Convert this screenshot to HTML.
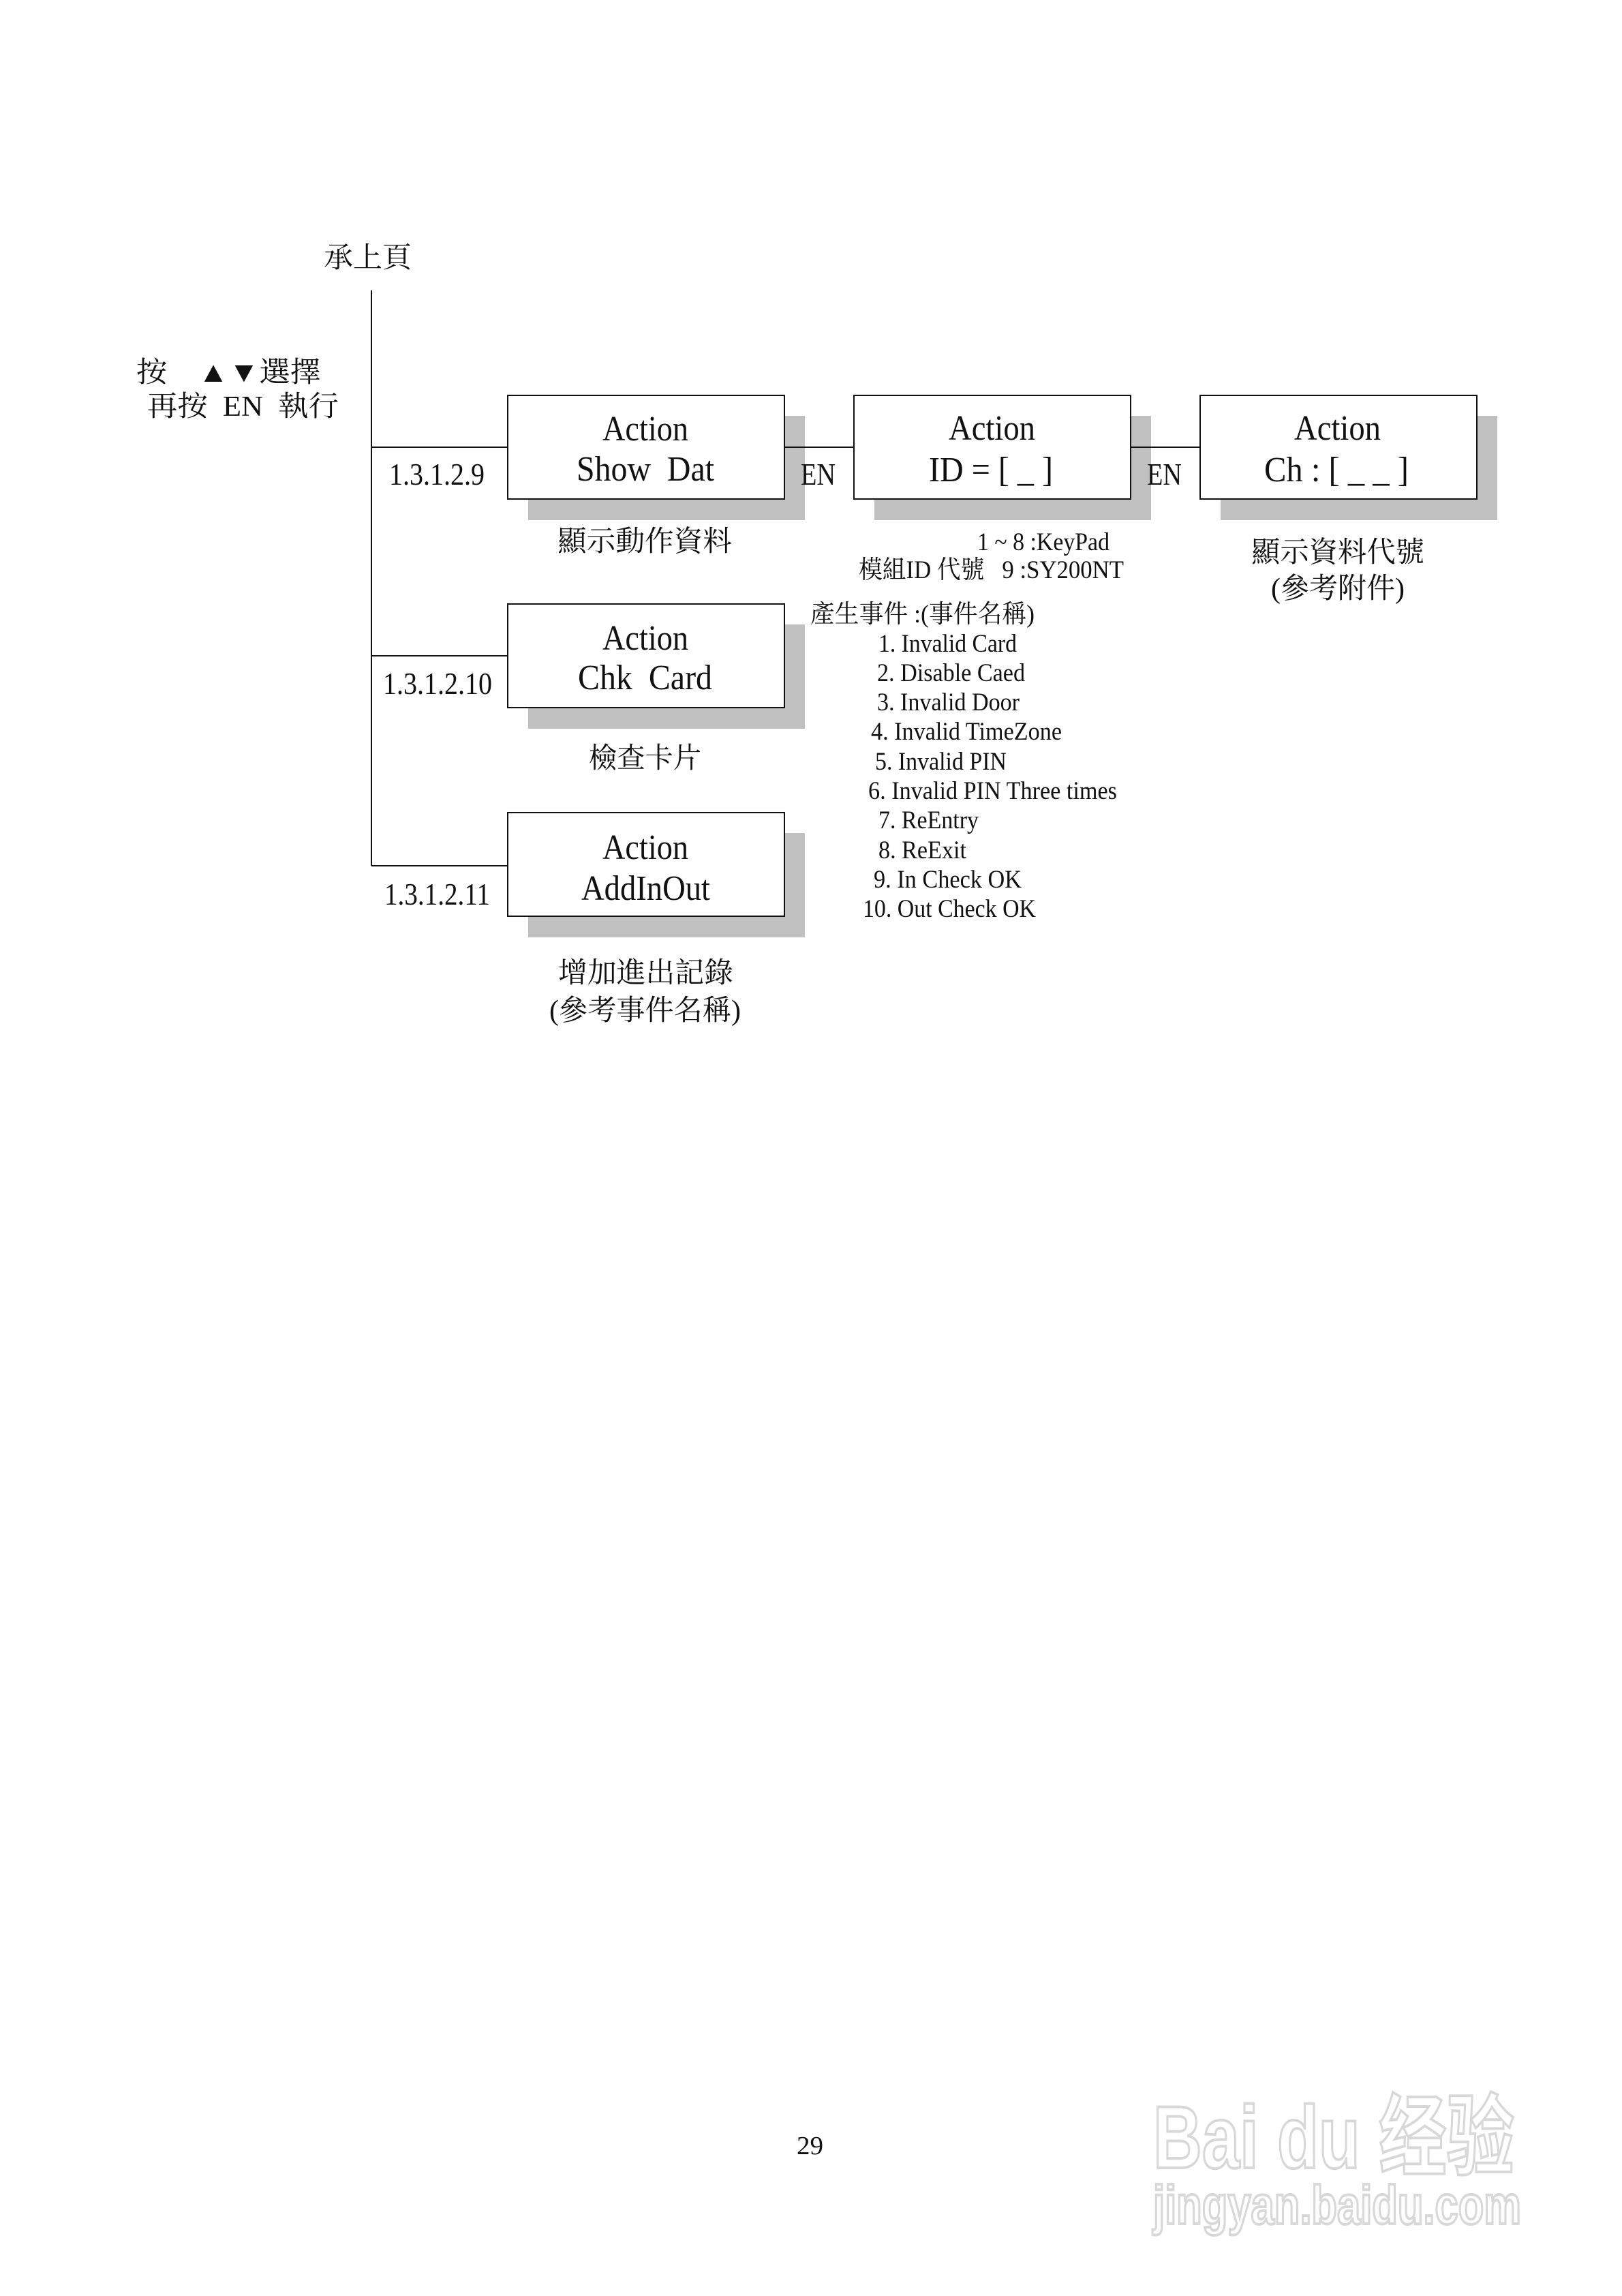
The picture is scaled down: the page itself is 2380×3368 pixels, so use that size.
<!DOCTYPE html>
<html><head><meta charset="utf-8"><style>
html,body{margin:0;padding:0;background:#fff}
svg{display:block}
text{font-family:"Liberation Serif","Noto Serif CJK SC","Noto Sans CJK TC",serif;fill:#111}
</style></head><body>
<svg width="2380" height="3368" viewBox="0 0 2380 3368" xmlns="http://www.w3.org/2000/svg">
<rect width="2380" height="3368" fill="#fff"/>
<g fill="#c0c0c0">
<rect x="775" y="610" width="406" height="153"/>
<rect x="1283" y="610" width="406" height="153"/>
<rect x="1791" y="610" width="406" height="153"/>
<rect x="775" y="916" width="406" height="153"/>
<rect x="775" y="1222" width="406" height="153"/>
</g>
<g stroke="#111" stroke-width="2" fill="none">
<line x1="545" y1="426" x2="545" y2="1270"/>
<line x1="545" y1="656" x2="745" y2="656"/>
<line x1="545" y1="962" x2="745" y2="962"/>
<line x1="545" y1="1270" x2="745" y2="1270"/>
<line x1="1151" y1="656" x2="1253" y2="656"/>
<line x1="1659" y1="656" x2="1761" y2="656"/>
</g>
<g stroke="#111" stroke-width="2" fill="#fff">
<rect x="745" y="580" width="406" height="152"/>
<rect x="1253" y="580" width="406" height="152"/>
<rect x="1761" y="580" width="406" height="152"/>
<rect x="745" y="886" width="406" height="152"/>
<rect x="745" y="1192" width="406" height="152"/>
</g>
<g font-size="52" lengthAdjust="spacingAndGlyphs">
<text x="884" y="646" textLength="126" lengthAdjust="spacingAndGlyphs">Action</text>
<text x="846" y="705" textLength="202" lengthAdjust="spacingAndGlyphs" xml:space="preserve">Show  Dat</text>
<text x="1392" y="645" textLength="127" lengthAdjust="spacingAndGlyphs">Action</text>
<text x="1363" y="706" textLength="182" lengthAdjust="spacingAndGlyphs">ID = [ _ ]</text>
<text x="1899" y="645" textLength="127" lengthAdjust="spacingAndGlyphs">Action</text>
<text x="1855" y="706" textLength="212" lengthAdjust="spacingAndGlyphs">Ch : [ _ _ ]</text>
<text x="884" y="953" textLength="126" lengthAdjust="spacingAndGlyphs">Action</text>
<text x="848" y="1011" textLength="197" lengthAdjust="spacingAndGlyphs" xml:space="preserve">Chk  Card</text>
<text x="884" y="1260" textLength="126" lengthAdjust="spacingAndGlyphs">Action</text>
<text x="853" y="1320" textLength="189" lengthAdjust="spacingAndGlyphs">AddInOut</text>
</g>
<g font-size="46">
<text x="571" y="711" textLength="140" lengthAdjust="spacingAndGlyphs">1.3.1.2.9</text>
<text x="562" y="1018" textLength="160" lengthAdjust="spacingAndGlyphs">1.3.1.2.10</text>
<text x="564" y="1327" textLength="155" lengthAdjust="spacingAndGlyphs">1.3.1.2.11</text>
<text x="1175" y="711" textLength="51" lengthAdjust="spacingAndGlyphs">EN</text>
<text x="1683" y="711" textLength="51" lengthAdjust="spacingAndGlyphs">EN</text>
</g>
<g font-size="42">
<text x="475" y="392" textLength="129" lengthAdjust="spacingAndGlyphs">承上頁</text>
<text x="200" y="560" textLength="271" lengthAdjust="spacingAndGlyphs" xml:space="preserve">按    ▲▼選擇</text>
<text x="216" y="610" textLength="281" lengthAdjust="spacingAndGlyphs" xml:space="preserve">再按  EN  執行</text>
<text x="818" y="808" textLength="256" lengthAdjust="spacingAndGlyphs">顯示動作資料</text>
<text x="864" y="1126" textLength="165" lengthAdjust="spacingAndGlyphs">檢查卡片</text>
<text x="819" y="1441" textLength="257" lengthAdjust="spacingAndGlyphs">增加進出記錄</text>
<text x="806" y="1496" textLength="281" lengthAdjust="spacingAndGlyphs">(參考事件名稱)</text>
<text x="1836" y="824" textLength="254" lengthAdjust="spacingAndGlyphs">顯示資料代號</text>
<text x="1865" y="877" textLength="196" lengthAdjust="spacingAndGlyphs">(參考附件)</text>
</g>
<g font-size="37">
<text x="1434" y="807" textLength="194" lengthAdjust="spacingAndGlyphs">1 ~ 8 :KeyPad</text>
<text x="1260" y="848" textLength="389" lengthAdjust="spacingAndGlyphs" xml:space="preserve">模組ID 代號   9 :SY200NT</text>
<text x="1189" y="913" textLength="329" lengthAdjust="spacingAndGlyphs">產生事件 :(事件名稱)</text>
<text x="1289" y="956" textLength="203" lengthAdjust="spacingAndGlyphs">1. Invalid Card</text>
<text x="1287" y="999" textLength="217" lengthAdjust="spacingAndGlyphs">2. Disable Caed</text>
<text x="1287" y="1042" textLength="209" lengthAdjust="spacingAndGlyphs">3. Invalid Door</text>
<text x="1278" y="1085" textLength="280" lengthAdjust="spacingAndGlyphs">4. Invalid TimeZone</text>
<text x="1284" y="1129" textLength="193" lengthAdjust="spacingAndGlyphs">5. Invalid PIN</text>
<text x="1274" y="1172" textLength="365" lengthAdjust="spacingAndGlyphs">6. Invalid PIN Three times</text>
<text x="1289" y="1215" textLength="147" lengthAdjust="spacingAndGlyphs">7. ReEntry</text>
<text x="1289" y="1259" textLength="129" lengthAdjust="spacingAndGlyphs">8. ReExit</text>
<text x="1282" y="1302" textLength="217" lengthAdjust="spacingAndGlyphs">9. In Check OK</text>
<text x="1266" y="1345" textLength="254" lengthAdjust="spacingAndGlyphs">10. Out Check OK</text>
</g>
<text x="1169" y="3160" font-size="38" textLength="39" lengthAdjust="spacingAndGlyphs">29</text>
<g fill="#fff" stroke="#d8d8d8" stroke-width="4" font-family="Liberation Sans, sans-serif" font-weight="bold">
<text x="1692" y="3180" font-size="130" textLength="530" lengthAdjust="spacingAndGlyphs" style="fill:#fff;stroke:#d8d8d8;font-family:'Liberation Sans','Noto Sans CJK SC',sans-serif">Bai du 经验</text>
<text x="1692" y="3262" font-size="80" textLength="540" lengthAdjust="spacingAndGlyphs" style="fill:#fff;stroke:#d8d8d8;font-family:'Liberation Sans',sans-serif">jingyan.baidu.com</text>
</g>
</svg>
</body></html>
